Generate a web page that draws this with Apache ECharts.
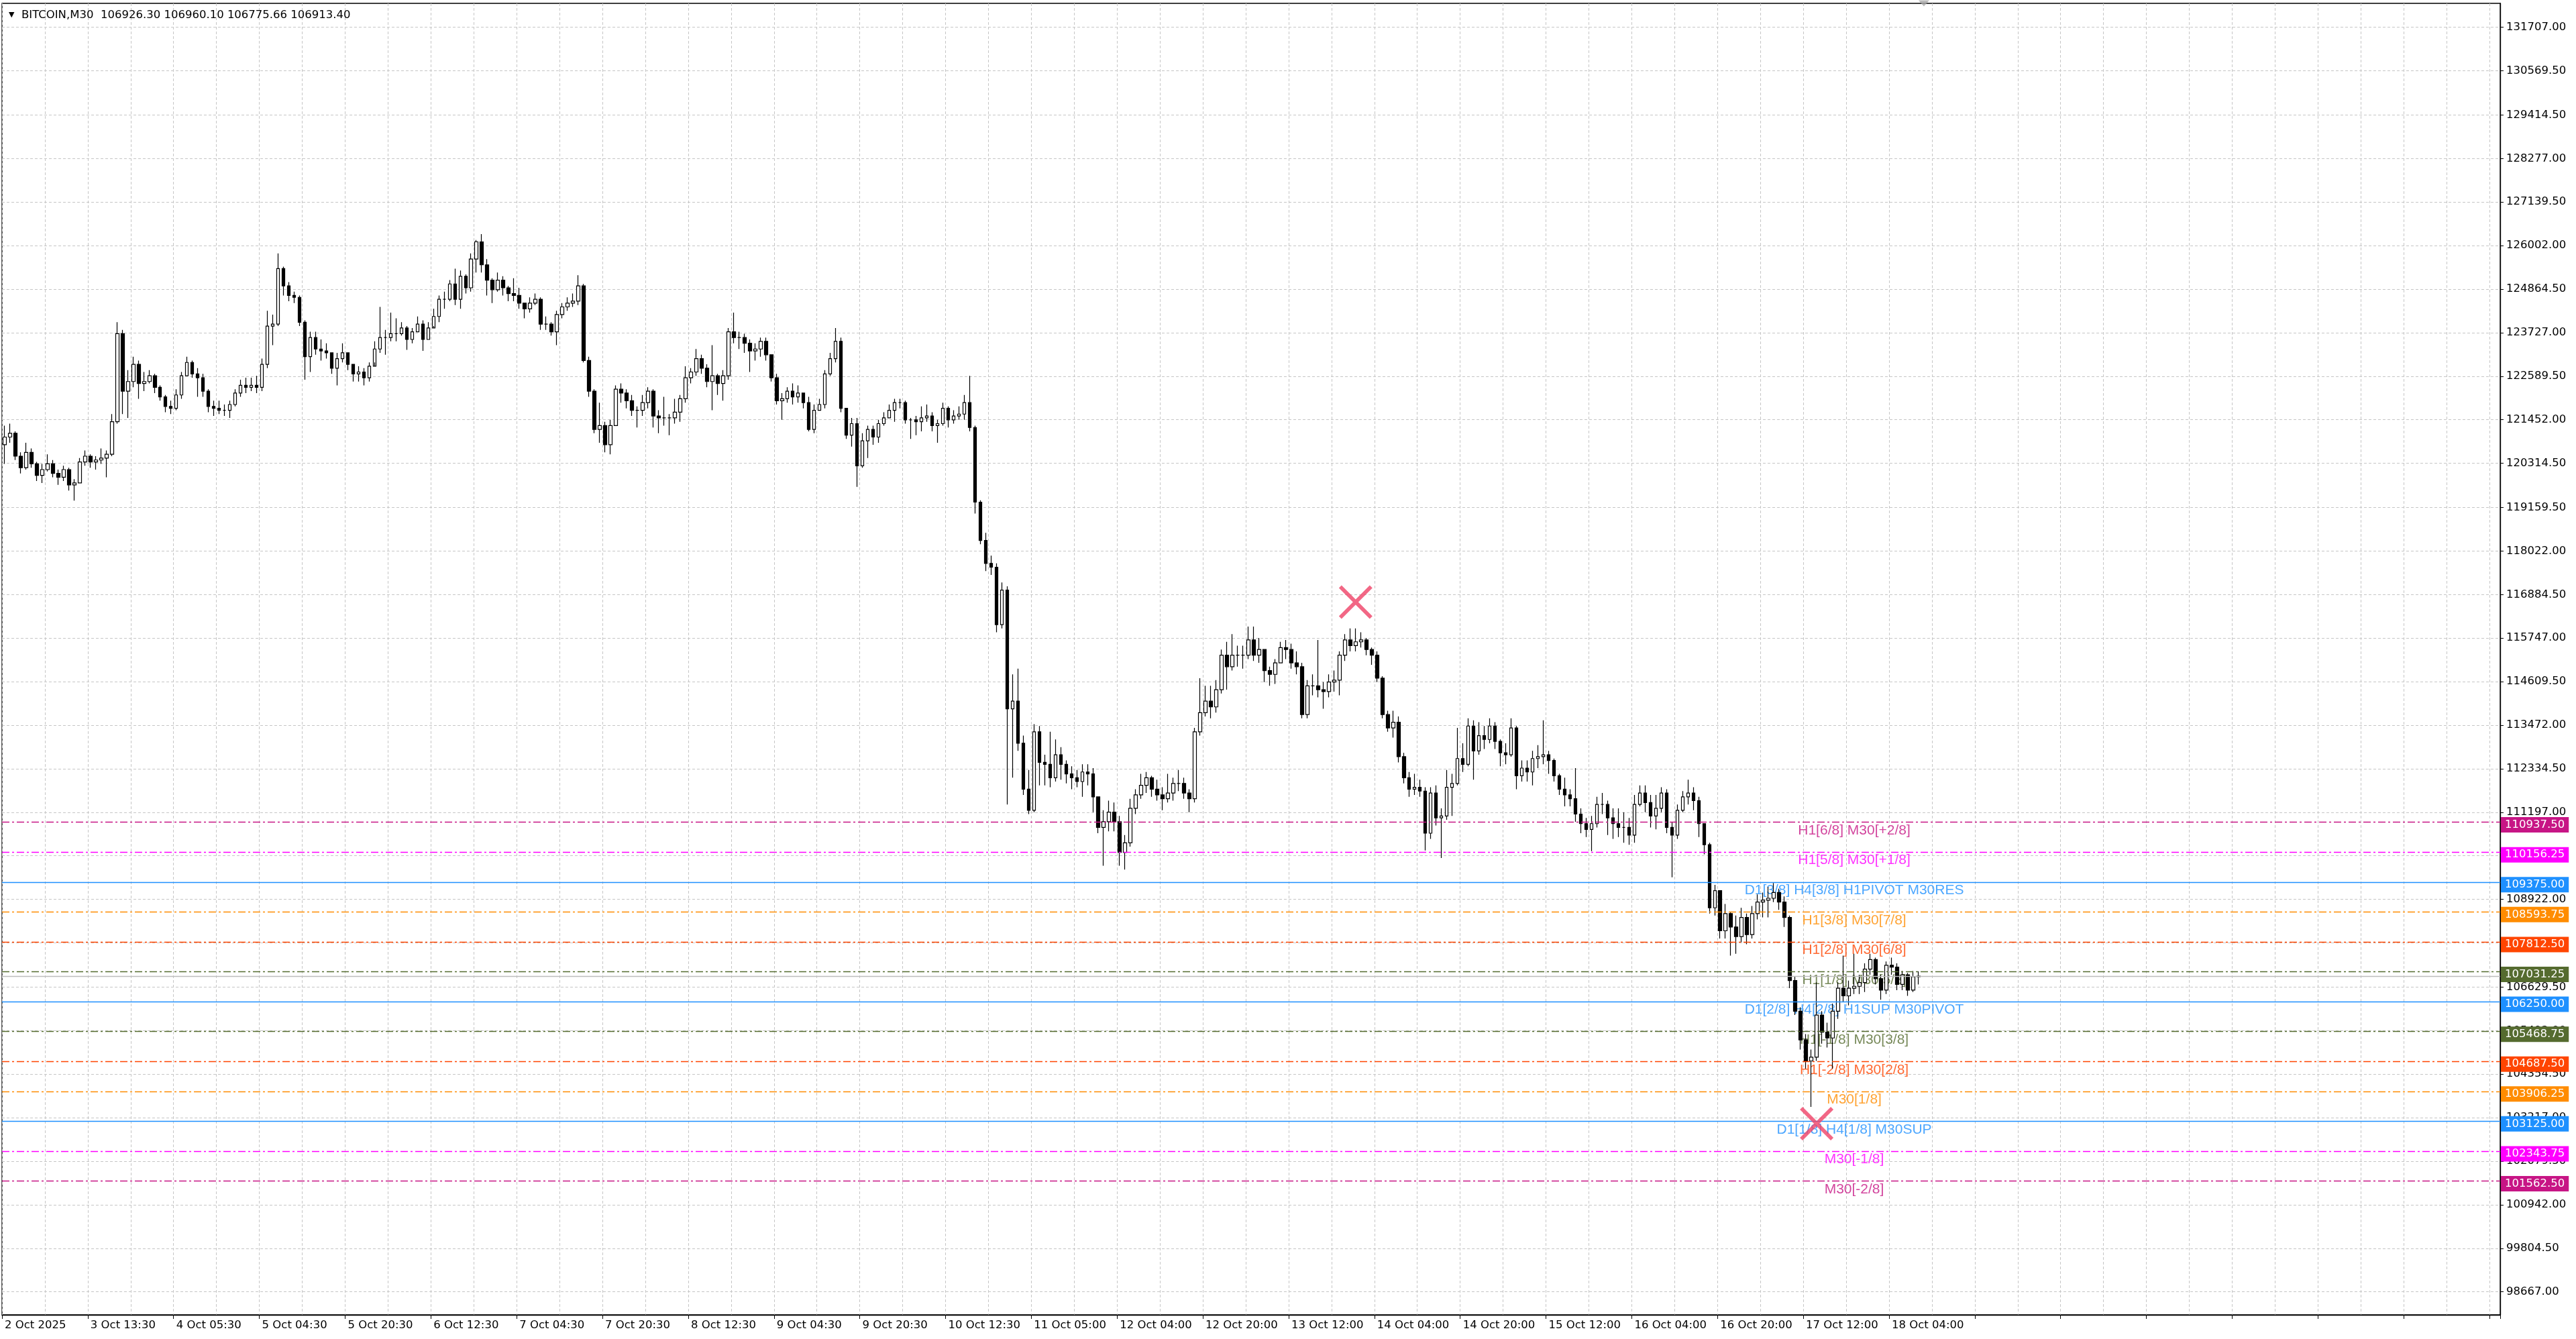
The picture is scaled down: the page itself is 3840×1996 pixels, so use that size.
<!DOCTYPE html>
<html>
<head>
<meta charset="utf-8">
<title>BITCOIN,M30</title>
<script src="https://cdn.jsdelivr.net/npm/echarts@6.0.0/dist/echarts.min.js"></script>
<style>
  html, body { margin: 0; padding: 0; background: #ffffff; }
  #chart { width: 3840px; height: 1996px; }
</style>
</head>
<body>
<div id="chart"></div>
<script>
// header: last M30 bar
var SYMBOL = 'BITCOIN,M30';
var LAST_OHLC = [106926.30, 106960.10, 106775.66, 106913.40];

// time labels on the x axis, one every 16 hourly slots
var TIME_LABELS = ['2 Oct 2025', '3 Oct 13:30', '4 Oct 05:30', '5 Oct 04:30', '5 Oct 20:30', '6 Oct 12:30',
  '7 Oct 04:30', '7 Oct 20:30', '8 Oct 12:30', '9 Oct 04:30', '9 Oct 20:30', '10 Oct 12:30', '11 Oct 05:00',
  '12 Oct 04:00', '12 Oct 20:00', '13 Oct 12:00', '14 Oct 04:00', '14 Oct 20:00', '15 Oct 12:00',
  '16 Oct 04:00', '16 Oct 20:00', '17 Oct 12:00', '18 Oct 04:00'];

// price scale labels
var Y_TICKS = [131707.00, 130569.50, 129414.50, 128277.00, 127139.50, 126002.00, 124864.50, 123727.00,
  122589.50, 121452.00, 120314.50, 119159.50, 118022.00, 116884.50, 115747.00, 114609.50, 113472.00,
  112334.50, 111197.00, 110059.50, 108922.00, 107784.50, 106629.50, 105492.00, 104354.50, 103217.00,
  102079.50, 100942.00, 99804.50, 98667.00];

// hourly candles (open = previous close)
var FIRST_OPEN = 120800;
var CLOSE = [
  121000, 121100, 120500, 120200, 120600, 120300, 120000, 120150, 120300, 120050,
  119950, 120150, 119750, 119800, 120350, 120500, 120350, 120400, 120450, 120550,
  121400, 123700, 122200, 122450, 122900, 122400, 122450, 122600, 122300, 122050,
  121800, 121750, 122100, 122600, 122950, 122650, 122550, 122200, 121800, 121750,
  121700, 121700, 121850, 122150, 122350, 122300, 122350, 122300, 122900, 123900,
  123950, 125400, 124950, 124700, 124650, 124000, 123100, 123600, 123300, 123250,
  123200, 122800, 123050, 123200, 122900, 122650, 122700, 122550, 122850, 123300,
  123600, 123600, 123700, 123700, 123850, 123550, 123750, 123950, 123550, 123850,
  124150, 124600, 124600, 125000, 124600, 125200, 124900, 125650, 126100, 125500,
  125100, 124850, 125100, 124900, 124750, 124700, 124500, 124350, 124500, 124600,
  123950, 123950, 123750, 124200, 124400, 124500, 124550, 124950, 123000, 122200,
  121200, 121300, 120800, 121300, 122250, 122150, 121950, 121700, 121700, 121900,
  122200, 121550, 121500, 121500, 121500, 121650, 122000, 122550, 122700, 123050,
  122800, 122450, 122600, 122400, 122600, 123750, 123600, 123600, 123450, 123250,
  123300, 123500, 123150, 122550, 121950, 122000, 122200, 122050, 122150, 121900,
  121200, 121700, 121850, 122650, 123050, 123500, 121750, 121050, 121350, 120250,
  120900, 121200, 121000, 121350, 121500, 121700, 121900, 121900, 121450, 121450,
  121400, 121500, 121550, 121300, 121350, 121750, 121450, 121550, 121600, 121900,
  121250, 119300, 118300, 117700, 117600, 116100, 117000, 113900, 114100, 113000,
  111800, 111250, 113300, 112500, 112450, 112100, 112700, 112450, 112200, 112100,
  112000, 112250, 112200, 111600, 110800, 110950, 111200, 110950, 110150, 110400,
  111300, 111650, 111900, 112100, 111800, 111650, 111550, 111700, 111950, 111950,
  111700, 111550, 113300, 113800, 114100, 113950, 114400, 115300, 115000, 115300,
  115300, 115300, 115700, 115300, 115450, 114900, 114800, 115100, 115500, 115450,
  115100, 115000, 113750, 114500, 114500, 114400, 114350, 114600, 114650, 115300,
  115700, 115550, 115650, 115700, 115450, 115300, 114700, 113750, 113400, 113550,
  112650, 112100, 111800, 111850, 111750, 110650, 111700, 111050, 111100, 111850,
  111950, 112600, 112450, 113450, 112800, 113200, 113100, 113450, 113050, 112750,
  112700, 113400, 112150, 112350, 112250, 112600, 112650, 112700, 112550, 112150,
  111800, 111650, 111550, 111150, 110900, 110750, 110900, 111400, 111400, 111050,
  110900, 110800, 110800, 110600, 111400, 111700, 111450, 111100, 111300, 111700,
  110800, 110600, 111250, 111600, 111700, 111500, 110900, 110350, 108700, 109150,
  108100, 108550, 108200, 107950, 108450, 108000, 108550, 108850, 108900, 108950,
  109100, 108850, 108450, 106800, 106000, 105250, 104700, 104800, 105900, 105450,
  105300, 106000, 106600, 106400, 106600, 106650, 106750, 107100, 107350, 106850,
  106550, 107200, 107150, 106700, 106950, 106550, 106900, 106913.4
];
var HIGH = [
  121300, 121350, 121150, 120600, 120850, 120700, 120350, 120300, 120550, 120400,
  120150, 120250, 120200, 119900, 120450, 120650, 120550, 120500, 120700, 120650,
  121600, 124000, 123800, 122750, 123100, 123000, 122700, 122750, 122650, 122350,
  122100, 121950, 122250, 122700, 123100, 123000, 122800, 122650, 122250, 121950,
  121950, 121850, 121950, 122250, 122500, 122550, 122550, 122600, 123050, 124300,
  124200, 125800, 125450, 125050, 124800, 124700, 124050, 123750, 123750, 123550,
  123450, 123200, 123200, 123450, 123150, 122850, 122850, 122800, 122950, 123500,
  124400, 123800, 124250, 124100, 124000, 123900, 123850, 124150, 124050, 124000,
  124350, 124700, 124800, 125100, 125400, 125350, 125250, 125800, 126150, 126300,
  125650, 125150, 125300, 125200, 124950, 125150, 124900, 124450, 124650, 124750,
  124650, 124150, 124000, 124300, 124500, 124650, 124750, 125230, 125000, 123100,
  122250, 121900, 121400, 121450, 122350, 122400, 122250, 122100, 121800, 122100,
  122300, 122250, 121700, 122050, 121600, 122000, 122100, 122850, 122800, 123300,
  123150, 122900, 123400, 122650, 122750, 123850, 124250, 123750, 123700, 123550,
  123450, 123600, 123600, 123050, 122650, 122150, 122300, 122400, 122350, 122150,
  122050, 121850, 122000, 122750, 123200, 123850, 123600, 121750, 121500, 121500,
  121100, 121300, 121300, 121450, 121650, 121850, 122000, 122000, 121950, 121500,
  121550, 121800, 121850, 121650, 121450, 121900, 121800, 121700, 121800, 122100,
  122600, 121300, 119350, 118500, 117900, 117700, 117200, 117100, 114800, 114950,
  113200, 112300, 113500, 113450, 112700, 113300, 113100, 112900, 112550, 112400,
  112300, 112450, 112450, 112350, 111600, 111250, 111500, 111450, 111100, 110600,
  111550, 111800, 112200, 112250, 112150, 112050, 111850, 112200, 112100, 112300,
  112100, 111800, 113400, 114700, 114500, 114500, 114650, 115450, 115650, 115850,
  115550, 115550, 116050, 116050, 115750, 115450, 115000, 115200, 115650, 115700,
  115600, 115400, 115100, 114650, 114800, 115700, 114600, 114800, 114900, 115400,
  115850, 116000, 116000, 115900, 115750, 115500, 115400, 114750, 113850, 113850,
  113700, 112750, 112250, 112200, 112050, 111850, 111850, 111900, 111300, 112300,
  112200, 113400, 113000, 113650, 113600, 113550, 113450, 113650, 113550, 113100,
  113000, 113650, 113450, 112550, 112550, 112800, 112950, 113600, 112800, 112600,
  112200, 112100, 111800, 112350, 111300, 111050, 111100, 111600, 111700, 111500,
  111300, 111300, 111200, 111050, 111650, 111900, 111900, 111650, 111650, 111850,
  111800, 110950, 111400, 111750, 112050, 111850, 111600, 110700, 110400, 109300,
  109000, 108800, 108600, 108500, 108700, 108550, 108750, 109050, 109100, 109250,
  109350, 109200, 109000, 108500, 106900, 106100, 105400, 105000, 106750, 106000,
  105700, 106200, 106750, 107450, 106800, 107500, 106950, 107250, 107500, 107400,
  106950, 107300, 107400, 107250, 107050, 107000, 107050, 107040
];
var LOW = [
  120300, 120850, 120400, 120050, 120150, 120200, 119850, 119800, 120100, 119950,
  119750, 119850, 119600, 119340, 119800, 120250, 120200, 120150, 120300, 119950,
  120500, 121350, 121600, 121500, 122300, 122000, 122200, 122400, 122150, 121950,
  121650, 121600, 121700, 122000, 122600, 122550, 122050, 122050, 121650, 121550,
  121600, 121550, 121500, 121800, 122050, 122150, 122200, 122150, 122200, 122800,
  123400, 123900, 124700, 124550, 124500, 123900, 122500, 122700, 123150, 123000,
  123050, 122650, 122350, 122950, 122750, 122450, 122450, 122350, 122450, 122950,
  123200, 123150, 123500, 123500, 123650, 123280, 123450, 123750, 123250, 123550,
  123900, 124000, 124350, 124550, 124450, 124350, 124750, 124800, 125300, 125300,
  124700, 124500, 124800, 124700, 124550, 124550, 124350, 124100, 124250, 124450,
  123800, 123800, 123650, 123400, 124100, 124300, 124400, 124450, 122950, 122050,
  121100, 120850, 120600, 120550, 121300, 121900, 121750, 121550, 121250, 121550,
  121750, 121250, 121100, 121300, 121050, 121350, 121400, 121900, 122400, 122600,
  122650, 122300, 121700, 122100, 121950, 122500, 123450, 123300, 123200, 122700,
  123000, 123100, 123000, 122450, 121850, 121450, 121900, 121850, 121900, 121750,
  121150, 121100, 121700, 121750, 122600, 122950, 121650, 120950, 120750, 119700,
  120200, 120450, 120800, 120850, 121300, 121500, 121400, 121750, 121350, 120950,
  121050, 121150, 121400, 121150, 120850, 121300, 121250, 121350, 121450, 121450,
  121150, 119000, 118200, 117500, 117400, 115900, 116000, 111400, 112100, 112800,
  111650, 111150, 111200, 111900, 111900, 111850, 112000, 112050, 111950, 111800,
  111850, 111600, 111900, 111200, 110650, 109800, 110700, 110700, 109800, 109700,
  110300, 111150, 111550, 111700, 111600, 111500, 111250, 111450, 111500, 111750,
  111550, 111200, 111450, 113200, 113700, 113650, 113800, 114300, 114400, 114900,
  115000, 114950, 115200, 115150, 115100, 114600, 114500, 114550, 115100, 115200,
  114950, 114800, 113650, 113650, 114250, 114200, 113900, 114200, 114350, 114250,
  115150, 115400, 115400, 115500, 115300, 115050, 114600, 113650, 113300, 113150,
  112500, 111950, 111600, 111650, 111600, 110200, 110500, 110850, 110000, 111000,
  111100, 111900, 112250, 112400, 112050, 112700, 112850, 113000, 112850, 112400,
  112450, 112650, 111800, 112000, 112000, 111900, 112350, 112450, 112200, 112000,
  111650, 111350, 111350, 110950, 110650, 110550, 110180, 110800, 111150, 110600,
  110500, 110550, 110400, 110350, 110400, 111350, 111200, 110800, 110750, 111200,
  110650, 109500, 110500, 111200, 111400, 111250, 110550, 110100, 108550, 108500,
  107900, 107900, 107450, 107500, 107800, 107750, 107900, 108400, 108450, 108450,
  108850, 108650, 108200, 106600, 105900, 105000, 104500, 103500, 104700, 105150,
  105050, 104500, 105800, 106250, 106150, 106450, 106450, 106500, 106950, 106700,
  106300, 106450, 106950, 106550, 106550, 106400, 106500, 106700
];

// Murrey-math style levels drawn by the indicator
var LEVEL_VALUES = [110937.50, 110156.25, 109375.00, 108593.75, 107812.50, 107031.25, 106250.00,
  105468.75, 104687.50, 103906.25, 103125.00, 102343.75, 101562.50];
var LEVEL_NAMES = ['H1[6/8] M30[+2/8]', 'H1[5/8] M30[+1/8]', 'D1[3/8] H4[3/8] H1PIVOT M30RES',
  'H1[3/8] M30[7/8]', 'H1[2/8] M30[6/8]', 'H1[1/8] M30[5/8]', 'D1[2/8] H4[2/8] H1SUP M30PIVOT',
  'H1[-1/8] M30[3/8]', 'H1[-2/8] M30[2/8]', 'M30[1/8]', 'D1[1/8] H4[1/8] M30SUP', 'M30[-1/8]', 'M30[-2/8]'];
var LEVEL_COLORS = ['#C71585', '#FF00FF', '#1E90FF', '#FF8C00', '#FF4500', '#556B2F', '#1E90FF',
  '#556B2F', '#FF4500', '#FF8C00', '#1E90FF', '#FF00FF', '#C71585'];
var LEVEL_SOLID = [false, false, true, false, false, false, true, false, false, false, true, false, false];

// cross markers (slot, price)
var CROSS_POINTS = [[252, 116690], [337.5, 103060]];

var SLOT_COUNT = 466;
var LABEL_SLOT = 345;
var Y_MIN = 98066;
var Y_MAX = 132331;
var AXIS_FONT = 'DejaVu Sans';

var slots = [];
for (var s = 0; s < SLOT_COUNT; s++) slots.push(s);

var candles = [];
var prev = FIRST_OPEN;
for (var i = 0; i < CLOSE.length; i++) {
  candles.push([prev, CLOSE[i], LOW[i], HIGH[i]]);
  prev = CLOSE[i];
}

var gridLine = { color: '#c6c6c6', type: [4, 3], width: 1 };

var levelLines = LEVEL_VALUES.map(function (v, i) {
  return {
    yAxis: v,
    lineStyle: { color: LEVEL_COLORS[i], width: 1.3, type: LEVEL_SOLID[i] ? 'solid' : [11, 4, 3, 4] },
    label: {
      show: true, position: 'end', distance: 1, offset: [0, 4],
      formatter: v.toFixed(2), color: '#ffffff', backgroundColor: LEVEL_COLORS[i],
      fontFamily: AXIS_FONT, fontSize: 16.5, padding: [3, 6, 2, 6], lineHeight: 18
    }
  };
});
levelLines.push({
  yAxis: LAST_OHLC[3],
  lineStyle: { color: '#bdbdbd', width: 1.3, type: 'solid' },
  label: { show: false }
});

var chart = echarts.init(document.getElementById('chart'));
chart.setOption({
  animation: false,
  backgroundColor: '#ffffff',
  title: {
    left: 8, top: 9,
    text: '{t|\u25BC}  ' + SYMBOL + '  ' + LAST_OHLC.map(function (v) { return v.toFixed(2); }).join(' '),
    textStyle: {
      fontFamily: AXIS_FONT, fontSize: 16.5, fontWeight: 'normal', color: '#000',
      rich: { t: { fontSize: 11, fontFamily: AXIS_FONT, color: '#000' } }
    }
  },
  grid: {
    left: 3, top: 5, right: 113, bottom: 36,
    show: true, borderColor: '#000', borderWidth: 1.3, backgroundColor: 'transparent'
  },
  xAxis: {
    type: 'category', data: slots, boundaryGap: true,
    axisLine: { lineStyle: { color: '#000', width: 1.3 } },
    axisTick: { show: true, length: 6, interval: function (idx) { return idx % 16 === 0; },
      lineStyle: { color: '#000' } },
    axisLabel: {
      interval: function (idx) { return idx % 16 === 0; },
      formatter: function (val, idx) { return TIME_LABELS[idx / 16] || ''; },
      align: 'left', margin: 7, color: '#000', fontFamily: AXIS_FONT, fontSize: 16.5
    },
    splitLine: { show: true, interval: function (idx) { return idx % 8 === 0; }, lineStyle: gridLine }
  },
  yAxis: {
    type: 'value', position: 'right', min: Y_MIN, max: Y_MAX, scale: true,
    axisLine: { show: true, lineStyle: { color: '#000', width: 1.3 } },
    axisTick: { show: true, length: 5, customValues: Y_TICKS, lineStyle: { color: '#000' } },
    axisLabel: {
      customValues: Y_TICKS, margin: 9, color: '#000', fontFamily: AXIS_FONT, fontSize: 16.5,
      formatter: function (v) { return v.toFixed(2); }
    },
    splitLine: { show: true, lineStyle: gridLine }
  },
  series: [
    {
      name: 'levels', type: 'line', data: [], z: 1, silent: true,
      markLine: { symbol: ['none', 'none'], silent: true, animation: false, data: levelLines }
    },
    {
      name: 'level names', type: 'scatter', z: 1, silent: true, symbolSize: 0,
      data: LEVEL_VALUES.map(function (v, i) {
        return { value: [LABEL_SLOT, v], label: { color: LEVEL_COLORS[i] } };
      }),
      label: {
        show: true, position: 'bottom', distance: 2,
        formatter: function (p) { return LEVEL_NAMES[p.dataIndex]; },
        fontFamily: 'Liberation Sans, Arial', fontSize: 21
      }
    },
    {
      name: SYMBOL, type: 'candlestick', data: candles, barWidth: 5, z: 3,
      itemStyle: { color: '#ffffff', color0: '#000000', borderColor: '#000000', borderColor0: '#000000', borderWidth: 1.2 }
    },
    {
      name: 'marks', type: 'scatter', z: 5, silent: true,
      symbol: 'path://M0.8,0 L5,4.2 L9.2,0 L10,0.8 L5.8,5 L10,9.2 L9.2,10 L5,5.8 L0.8,10 L0,9.2 L4.2,5 L0,0.8 Z',
      symbolSize: 50, itemStyle: { color: '#EF4166' },
      data: CROSS_POINTS
    },
    {
      name: 'shift', type: 'scatter', z: 5, silent: true, clip: false,
      symbol: 'triangle', symbolRotate: 180, symbolSize: [16, 9], itemStyle: { color: '#a8a8a8' },
      data: [[358, Y_MAX]]
    }
  ]
});
</script>
</body>
</html>
